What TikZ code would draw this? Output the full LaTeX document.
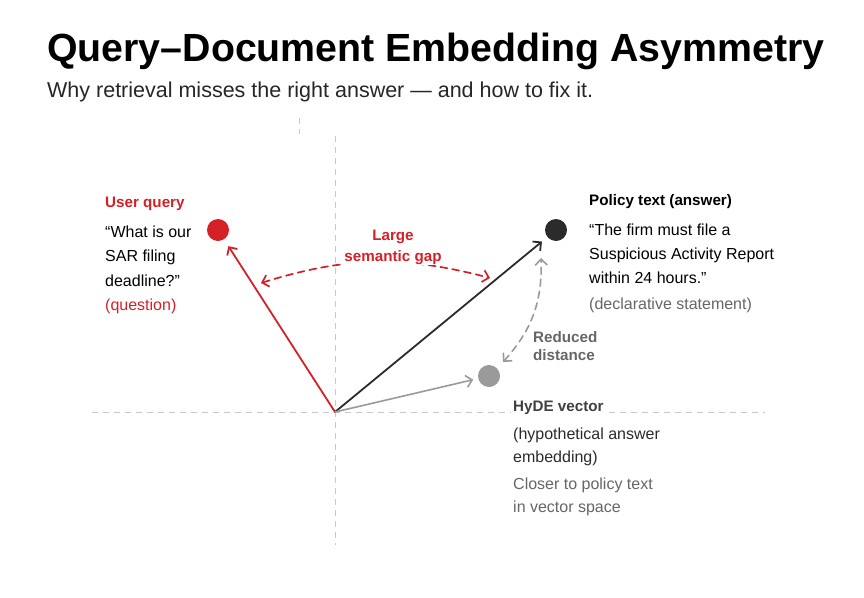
\documentclass[tikz,border=0pt]{standalone}
\usepackage{fontspec}
\setmainfont{Liberation Sans}
\usetikzlibrary{arrows.meta}
\definecolor{qred}{HTML}{D42027}
\definecolor{docdark}{HTML}{2B2B2B}
\definecolor{hydegray}{HTML}{9A9A9A}
\definecolor{axisgray}{HTML}{C9C9C9}
\definecolor{notegray}{HTML}{666666}
\begin{document}
\begin{tikzpicture}[x=1pt, y=-1pt, line join=round, line cap=round, >={Straight Barb[length=6pt,width=12pt]},
    body/.style={font=\fontsize{16}{24.5}\selectfont, anchor=base west, inner sep=0pt},
    tag/.style={font=\bfseries\fontsize{15.2}{21}\selectfont, anchor=base west, inner sep=0pt},
    dot/.style={circle, inner sep=0pt, minimum size=22pt},
    vec/.style={->, line width=1.8pt},
    gap/.style={<->, line width=1.7pt, dash pattern=on 7pt off 5pt},
    axis/.style={axisgray, line width=1pt, dash pattern=on 6pt off 5pt, line cap=butt}]
    \useasboundingbox[fill=white] (0,0) rectangle (864,597);
    % heading
    \node[anchor=base west, inner sep=0pt, font=\bfseries\fontsize{39.3}{44}\selectfont] (title) at (47,61) {Query–Document Embedding Asymmetry};
    \node[anchor=base west, inner sep=0pt, font=\fontsize{21.5}{24}\selectfont, text=black!85] (subtitle) at (47,97) {Why retrieval misses the right answer — and how to fix it.};
    % axes
    \draw[axis] (299,118)--(299,134);
    \draw[axis] (335,136)--(335,545);
    \draw[axis] (92,412)--(765,412);
    \coordinate (O) at (335,412);
    % embeddings
    \node[dot, fill=qred] (query) at (218,230) {};
    \node[dot, fill=docdark] (policy) at (556,230) {};
    \node[dot, fill=hydegray] (hyde) at (489,376) {};
    \draw[vec, qred, shorten >=8pt] (O)--(query);
    \draw[vec, docdark, shorten >=7pt] (O)--(policy);
    \draw[vec, hydegray, line width=1.6pt, shorten >=5pt] (O)--(hyde);
    % distances
    \coordinate (gapL) at (261,283);
    \coordinate (gapR) at (490,278);
    \draw[gap, qred] (gapL) to[bend left=16] (gapR);
    \coordinate (redBot) at (503,362);
    \coordinate (redTop) at (541,258);
    \draw[gap, hydegray, line width=1.6pt] (redBot) to[bend right=22] (redTop);
    \node[tag, text=qred, anchor=base, fill=white, inner sep=1pt] (gapLarge) at (393,240) {Large};
    \node[tag, text=qred, anchor=base, fill=white, inner sep=1pt] (gapSem) at (393,261) {semantic gap};
    \node[tag, text=notegray] (redA) at (533,342) {Reduced};
    \node[tag, text=notegray] (redB) at (533,360) {distance};
    % user query
    \node[tag, text=qred] (uqTag) at (105,207) {User query};
    \foreach \line [count=\i from 0] in {{“What is our},{SAR filing},{deadline?”}}
        \node[body] (uq\i) at (105,237+24.5*\i) {\line};
    \node[body, text=qred] (uqNote) at (105,310) {(question)};
    % policy text
    \node[tag] (ptTag) at (589,205) {Policy text (answer)};
    \foreach \line [count=\i from 0] in {{“The firm must file a},{Suspicious Activity Report},{within 24 hours.”}}
        \node[body] (pt\i) at (589,235+24.2*\i) {\line};
    \node[body, text=notegray] (ptNote) at (589,309) {(declarative statement)};
    % hyde vector
    \node[tag, text=black!75, fill=white, inner sep=2pt, anchor=base west] (hyTag) at (511,411) {HyDE vector};
    \node[body, text=docdark] (hy0) at (513,439) {(hypothetical answer};
    \node[body, text=docdark] (hy1) at (513,462) {embedding)};
    \node[body, text=notegray] (hy2) at (513,489) {Closer to policy text};
    \node[body, text=notegray] (hy3) at (513,512) {in vector space};
\end{tikzpicture}
\end{document}
